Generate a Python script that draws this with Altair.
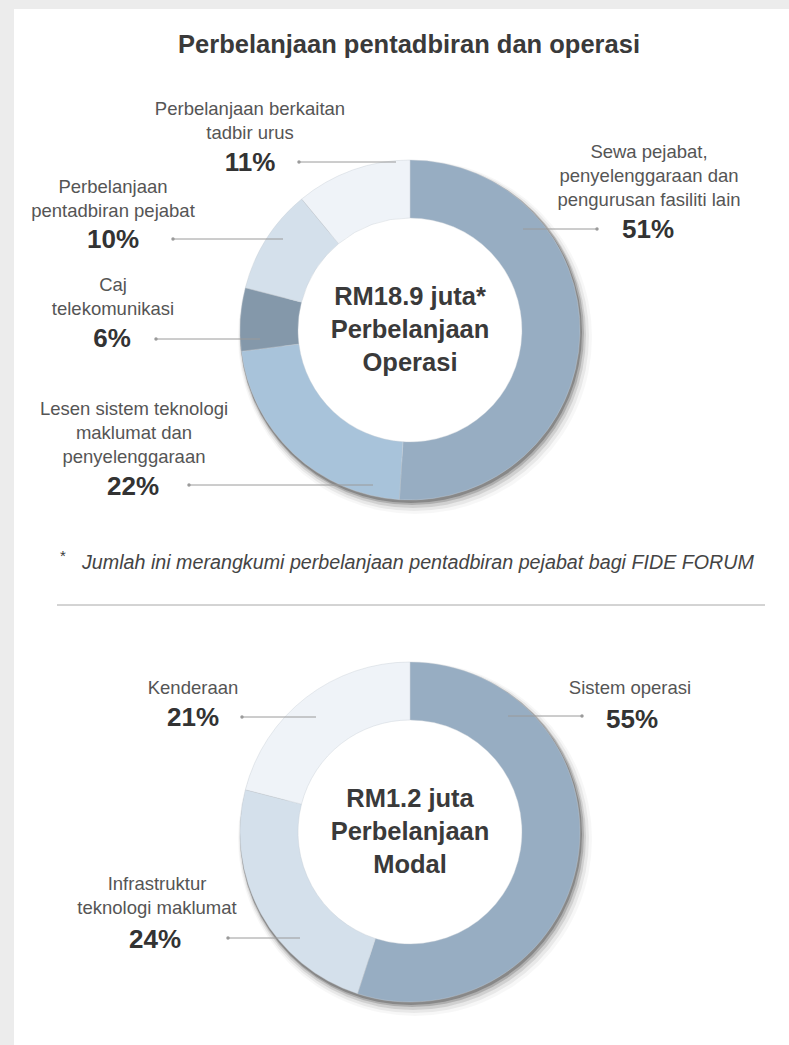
import math
import altair as alt
import pandas as pd

# ---------------- data ----------------
title = "Perbelanjaan pentadbiran dan operasi"

ops_categories = [
    "Sewa pejabat, penyelenggaraan dan pengurusan fasiliti lain",
    "Lesen sistem teknologi maklumat dan penyelenggaraan",
    "Caj telekomunikasi",
    "Perbelanjaan pentadbiran pejabat",
    "Perbelanjaan berkaitan tadbir urus",
]
ops_values = [51, 22, 6, 10, 11]
ops_label_lines = [
    ["Sewa pejabat,", "penyelenggaraan dan", "pengurusan fasiliti lain"],
    ["Lesen sistem teknologi", "maklumat dan", "penyelenggaraan"],
    ["Caj", "telekomunikasi"],
    ["Perbelanjaan", "pentadbiran pejabat"],
    ["Perbelanjaan berkaitan", "tadbir urus"],
]
ops_center_text = ["RM18.9 juta*", "Perbelanjaan", "Operasi"]

cap_categories = ["Sistem operasi", "Infrastruktur teknologi maklumat", "Kenderaan"]
cap_values = [55, 24, 21]
cap_label_lines = [["Sistem operasi"], ["Infrastruktur", "teknologi maklumat"], ["Kenderaan"]]
cap_center_text = ["RM1.2 juta", "Perbelanjaan", "Modal"]

footnote = "Jumlah ini merangkumi perbelanjaan pentadbiran pejabat bagi FIDE FORUM"

# ---------------- styles ----------------
ops_colors = ["#97adc2", "#a8c3da", "#8498aa", "#d4e0eb", "#eff3f8"]
cap_colors = ["#97adc2", "#d4e0eb", "#eff3f8"]
FONT = "Liberation Sans"
LABEL_COLOR = "#555555"
PCT_COLOR = "#333333"
DARK = "#3a3a3a"
LEADER = "#9a9a9a"

# ---------------- layout ----------------
W, H = 789, 1045
INNER_R, OUTER_R = 112, 170
OPS_CENTER = (410, 330)
CAP_CENTER = (410, 832)
LINE_H = 24
# per segment: label x, first label line y, pct x, pct y, leader x1, x2, y, dot x
ops_layout = [
    (649, 152, 648, 230, 523, 597, 229, 597),
    (134, 409, 133, 487, 189, 373, 485, 189),
    (113, 285, 112, 339, 156, 260, 339, 156),
    (113, 187, 113, 240, 173, 283, 239, 173),
    (250, 109, 250, 163, 299, 396, 162, 299),
]
cap_layout = [
    (630, 688, 632, 720, 508, 582, 716, 582),
    (157, 884, 155, 940, 228, 300, 938, 228),
    (193, 688, 193, 718, 242, 316, 717, 242),
]

one = pd.DataFrame({"k": [0]})
layers = []

# background panel
layers.append(
    alt.Chart(one).mark_rect(color="white").encode(
        x=alt.value(14), x2=alt.value(W), y=alt.value(9), y2=alt.value(H)
    )
)

all_cats = ops_categories + cap_categories
all_colors = ops_colors + cap_colors
color_scale = alt.Scale(domain=all_cats, range=all_colors)


def donut(cats, vals, center):
    cx, cy = center
    out = []
    # soft shadow toward lower right
    for dx, dy, r, op in [(1, 2, 171, 0.22), (2, 3, 172, 0.16), (3, 5, 173, 0.10),
                          (4, 6, 175, 0.06), (5, 7, 177, 0.03)]:
        out.append(
            alt.Chart(one).mark_arc(
                innerRadius=130, outerRadius=r, theta=0, theta2=2 * math.pi,
                color="#000000", opacity=op,
            ).encode(x=alt.value(cx + dx), y=alt.value(cy + dy))
        )
    df = pd.DataFrame({"cat": cats, "value": vals, "idx": list(range(len(cats)))})
    out.append(
        alt.Chart(df).mark_arc(innerRadius=INNER_R, outerRadius=OUTER_R,
                               stroke="#c4ccd4", strokeWidth=0.4).encode(
            theta=alt.Theta("value:Q", stack=True),
            order=alt.Order("idx:Q"),
            color=alt.Color("cat:N", scale=color_scale, legend=None),
            x=alt.value(cx), y=alt.value(cy),
        )
    )
    return out


def annotations(vals, lines, layout):
    label_rows, pct_rows, rule_rows = [], [], []
    for v, ls, (lx, ly, px, py, x1, x2, ry, dx) in zip(vals, lines, layout):
        for i, t in enumerate(ls):
            label_rows.append({"t": t, "x": lx, "y": ly + i * LINE_H})
        pct_rows.append({"t": f"{v}%", "x": px, "y": py})
        rule_rows.append({"x1": x1, "x2": x2, "y": ry, "dx": dx})
    out = [
        alt.Chart(pd.DataFrame(rule_rows)).mark_rule(color=LEADER, strokeWidth=1).encode(
            x=alt.X("x1:Q", scale=None), x2="x2:Q", y=alt.Y("y:Q", scale=None)
        ),
        alt.Chart(pd.DataFrame(rule_rows)).mark_circle(color=LEADER, size=12, opacity=1).encode(
            x=alt.X("dx:Q", scale=None), y=alt.Y("y:Q", scale=None)
        ),
        alt.Chart(pd.DataFrame(label_rows)).mark_text(
            font=FONT, fontSize=18.5, color=LABEL_COLOR, align="center", baseline="middle"
        ).encode(x=alt.X("x:Q", scale=None), y=alt.Y("y:Q", scale=None), text="t:N"),
        alt.Chart(pd.DataFrame(pct_rows)).mark_text(
            font=FONT, fontSize=26, fontWeight="bold", color=PCT_COLOR, align="center", baseline="middle"
        ).encode(x=alt.X("x:Q", scale=None), y=alt.Y("y:Q", scale=None), text="t:N"),
    ]
    return out


def center_text(lines, center):
    cx, cy = center
    rows = [{"t": t, "x": cx, "y": cy - 33 + 33 * i} for i, t in enumerate(lines)]
    return alt.Chart(pd.DataFrame(rows)).mark_text(
        font=FONT, fontSize=25.5, fontWeight="bold", color=DARK, align="center", baseline="middle"
    ).encode(x=alt.X("x:Q", scale=None), y=alt.Y("y:Q", scale=None), text="t:N")


layers += donut(ops_categories, ops_values, OPS_CENTER)
layers += donut(cap_categories, cap_values, CAP_CENTER)
layers += annotations(ops_values, ops_label_lines, ops_layout)
layers += annotations(cap_values, cap_label_lines, cap_layout)
layers.append(center_text(ops_center_text, OPS_CENTER))
layers.append(center_text(cap_center_text, CAP_CENTER))

# title
layers.append(
    alt.Chart(pd.DataFrame({"t": [title]})).mark_text(
        font=FONT, fontSize=25.5, fontWeight="bold", color=DARK, align="center", baseline="middle"
    ).encode(x=alt.value(409), y=alt.value(45), text="t:N")
)
# footnote
layers.append(
    alt.Chart(pd.DataFrame({"t": ["*"]})).mark_text(
        font=FONT, fontSize=15, color=DARK, align="center", baseline="middle"
    ).encode(x=alt.value(63), y=alt.value(556), text="t:N")
)
layers.append(
    alt.Chart(pd.DataFrame({"t": [footnote]})).mark_text(
        font=FONT, fontSize=19.7, fontStyle="italic", color="#444444", align="left", baseline="middle"
    ).encode(x=alt.value(82), y=alt.value(563), text="t:N")
)
# divider
layers.append(
    alt.Chart(one).mark_rule(color="#a8a8a8", strokeWidth=1).encode(
        x=alt.value(57), x2=alt.value(765), y=alt.value(605)
    )
)

chart = alt.layer(*layers).properties(
    width=W, height=H, padding=0,
    autosize=alt.AutoSizeParams(type="none"),
    background="#ececec",
).configure_view(stroke=None)

chart.save("out.html", embed_options={"renderer": "svg", "actions": False})
